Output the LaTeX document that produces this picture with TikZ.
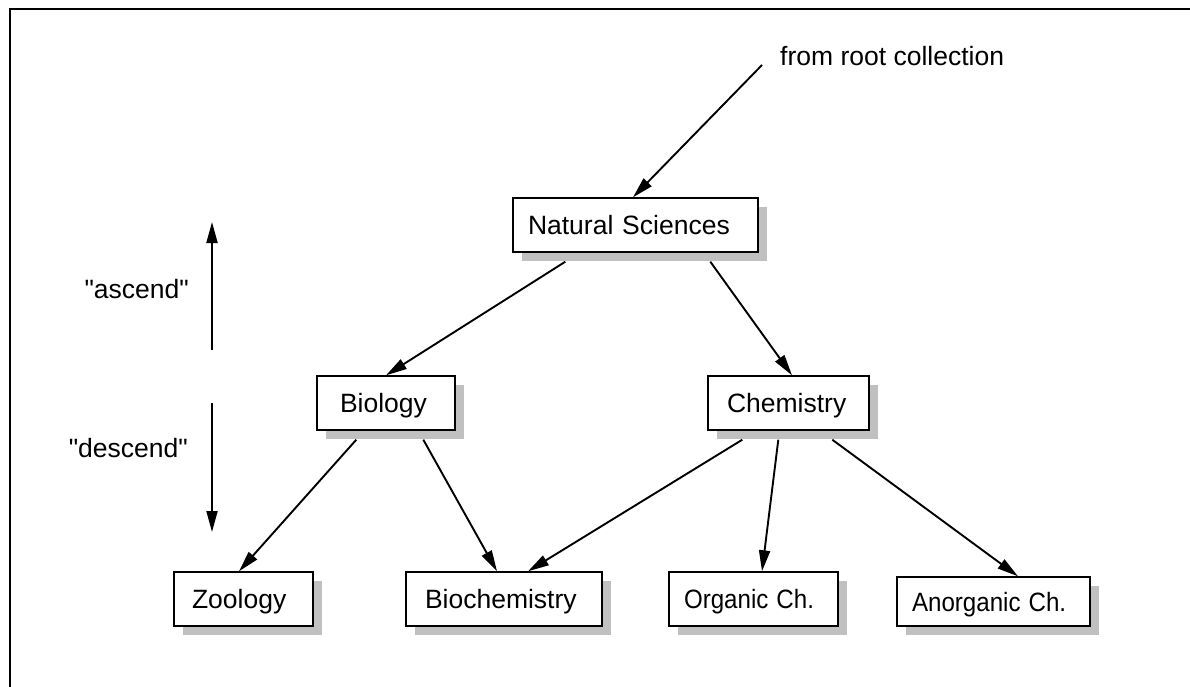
\documentclass[tikz,border=0pt]{standalone}
\usepackage{fontspec}
\setmainfont{Liberation Sans}
\usetikzlibrary{arrows.meta,shadows}
\definecolor{shgray}{HTML}{C0C0C0}
\begin{document}
\begin{tikzpicture}[x=1pt,y=-1pt,
  every node/.style={font=\fontsize{26.5}{30}\selectfont},
  box/.style={draw, fill=white, line width=1.4pt, minimum height=54pt,
    text height=19pt, text depth=0pt, inner ysep=0pt, align=left,
    drop shadow={shadow xshift=9pt, shadow yshift=-9pt, fill=shgray, opacity=1}},
  arr/.style={line width=1.9pt, -{Triangle[length=21pt,width=11pt]}},
  lbl/.style={inner sep=0pt, text height=19pt, text depth=0pt}]
\useasboundingbox (0,0) rectangle (1190,687);
\draw[line width=1.2pt] (1190,9) -- (10,9) -- (10,687);
% boxes
\node[box, text width=215pt, inner xsep=15pt] (ns) at (635.5,225) {\mbox{Natural Sciences}};
\node[box, text width=92pt, inner xsep=23pt] (bio) at (386,403) {\mbox{Biology}};
\node[box, text width=123pt, inner xsep=19pt] (chem) at (788.5,403) {\mbox{Chemistry}};
\node[box, text width=103pt, inner xsep=18pt] (zoo) at (243.5,599) {\mbox{Zoology}};
\node[box, text width=158pt, inner xsep=19pt] (bioch) at (504,599) {\mbox{Biochemistry}};
\node[box, text width=139pt, inner xsep=15pt] (org) at (753.5,599) {\scalebox{0.91}[1]{Organic Ch.}};
\node[box, text width=163pt, inner xsep=15pt, minimum height=49pt] (anorg) at (993.5,601.5) {\scalebox{0.91}[1]{Anorganic Ch.}};
% labels
\node[lbl, anchor=west] (rootlbl) at (780,56.5) {from root collection};
\node[lbl, anchor=east] (asc) at (189,288.5) {\textquotedbl ascend\textquotedbl};
\node[lbl, anchor=east] (desc) at (188,448) {\textquotedbl descend\textquotedbl};
% coordinates
\coordinate (root) at (762,65);
\coordinate (ascA) at (212,350);
\coordinate (ascB) at (212,222);
\coordinate (descA) at (212,403);
\coordinate (descB) at (212,532);
% connectors
\draw[arr] (root) -- ([xshift=-2.5pt]ns.north);
\draw[arr] ([shift={(53,9)}]ns.south west) -- (bio.north);
\draw[arr] ([shift={(198,9)}]ns.south west) -- ([xshift=3.5pt]chem.north);
\draw[arr] ([shift={(40,9)}]bio.south west) -- ([xshift=-4.5pt]zoo.north);
\draw[arr] ([shift={(107,9)}]bio.south west) -- ([xshift=-7pt]bioch.north);
\draw[arr] ([shift={(35,9)}]chem.south west) -- ([xshift=24pt]bioch.north);
\draw[arr] ([shift={(71,9)}]chem.south west) -- ([xshift=8.5pt]org.north);
\draw[arr] ([shift={(125,9)}]chem.south west) -- ([xshift=24.5pt]anorg.north);
\draw[arr] (ascA) -- (ascB);
\draw[arr] (descA) -- (descB);
\end{tikzpicture}
\end{document}
